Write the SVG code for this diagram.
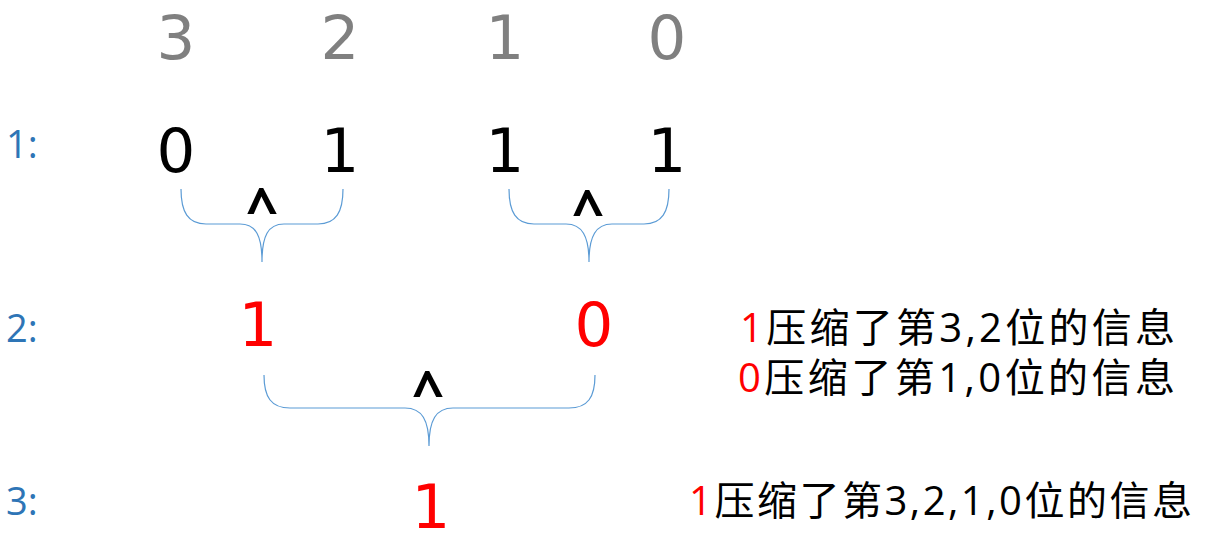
<svg xmlns="http://www.w3.org/2000/svg" width="1206" height="541" viewBox="0 0 1206 541">
<style>
.idx{font-family:"DejaVu Sans","Liberation Sans",sans-serif;font-size:61px;fill:#808080;text-anchor:middle}
.bit{font-family:"DejaVu Sans","Liberation Sans",sans-serif;font-size:61px;fill:#000;text-anchor:middle}
.red{fill:#ff0000}
.lvl{font-family:"Open Sans","Liberation Sans",sans-serif;font-size:38px;fill:#2e75b6}
.op{font-family:"Open Sans","Liberation Sans",sans-serif;font-size:56px;font-weight:bold;fill:#000;text-anchor:middle}
.note{font-family:"Open Sans","Noto Sans CJK SC",sans-serif;font-size:40px;fill:#000}
.brace{fill:none;stroke:#5b9bd5;stroke-width:1.2}
</style>
<rect width="1206" height="541" fill="#fff"/>
<g id="indices">
<text class="idx" x="176" y="59">3</text>
<text class="idx" x="340" y="59">2</text>
<text class="idx" x="505" y="59">1</text>
<text class="idx" x="667" y="59">0</text>
</g>
<g id="level-labels">
<text class="lvl" x="6" y="158">1:</text>
<text class="lvl" x="6" y="342">2:</text>
<text class="lvl" x="6" y="515">3:</text>
</g>
<g id="row1">
<text class="bit" x="176" y="172">0</text>
<text class="bit" x="340" y="172">1</text>
<text class="bit" x="505" y="172">1</text>
<text class="bit" x="667" y="172">1</text>
</g>
<g id="row2">
<text class="bit red" x="258" y="346">1</text>
<text class="bit red" x="594" y="346">0</text>
</g>
<g id="row3">
<text class="bit red" x="431" y="528">1</text>
</g>
<g id="connectors">
<path class="brace" d="M181,189 C181,212 188,224 206,224 L240,224 C256,224 262,236 262,262 C262,236 268,224 284,224 L318,224 C336,224 343,212 343,189"/>
<path class="brace" d="M509,189 C509,212 516,224 534,224 L566,224 C582,224 589,236 589,262 C589,236 596,224 612,224 L644,224 C662,224 669,212 669,189"/>
<path class="brace" d="M264,375 C264,397 271,408 290,408 L405,408 C422,408 429,420 429,446 C429,420 436,408 453,408 L569,408 C588,408 595,397 595,375"/>
</g>
<g id="operators">
<text class="op" x="262" y="228">^</text>
<text class="op" x="588" y="230">^</text>
<text class="op" x="428" y="411">^</text>
</g>
<g id="notes">
<text class="note" x="740" y="342" textLength="435" lengthAdjust="spacing"><tspan fill="#ff0000">1</tspan>压缩了第3,2位的信息</text>
<text class="note" x="738" y="392" textLength="437" lengthAdjust="spacing"><tspan fill="#ff0000">0</tspan>压缩了第1,0位的信息</text>
<text class="note" x="689" y="515" textLength="503" lengthAdjust="spacing"><tspan fill="#ff0000">1</tspan>压缩了第3,2,1,0位的信息</text>
</g>
</svg>
